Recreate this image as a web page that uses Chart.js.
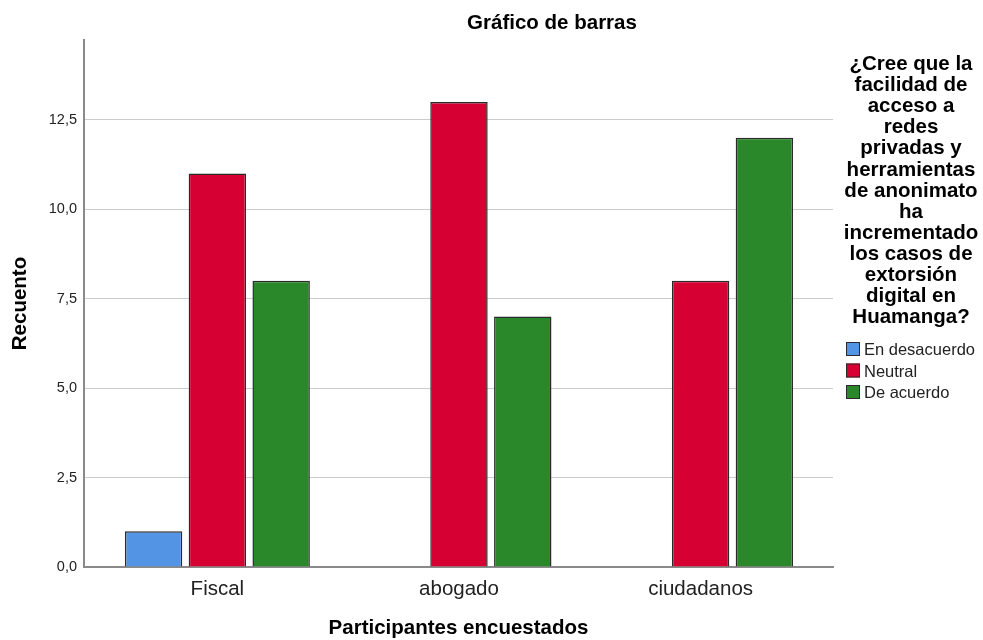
<!DOCTYPE html>
<html><head><meta charset="utf-8">
<script src="https://cdn.jsdelivr.net/npm/chart.js@4.4.1/dist/chart.umd.min.js"></script>
<style>html,body{margin:0;padding:0;background:#fff}canvas{display:block}</style>
</head><body>
<canvas id="c" width="983" height="640"></canvas>
<script>
const categories = ['Fiscal', 'abogado', 'ciudadanos'];
const seriesNames = ['En desacuerdo', 'Neutral', 'De acuerdo'];
const enDesacuerdo = [1, null, null];
const neutral = [11, 13, 8];
const deAcuerdo = [8, 7, 12];
const yTicks = [0, 2.5, 5, 7.5, 10, 12.5];
const chartTitle = 'Gráfico de barras';
const xTitle = 'Participantes encuestados';
const yTitle = 'Recuento';
const legendTitleLines = ['¿Cree que la', 'facilidad de', 'acceso a', 'redes', 'privadas y',
  'herramientas', 'de anonimato', 'ha', 'incrementado', 'los casos de', 'extorsión',
  'digital en', 'Huamanga?'];
const colors = ['#5494E4', '#D70032', '#2A882A'];

const FONT = "'Liberation Sans', Arial, sans-serif";
const series = [enDesacuerdo, neutral, deAcuerdo];

const textPlugin = {
  id: 'texts',
  afterDraw(chart) {
    const ctx = chart.ctx;
    ctx.save();
    ctx.fillStyle = '#000';
    ctx.textAlign = 'center';
    ctx.textBaseline = 'alphabetic';
    ctx.font = 'bold 20.5px ' + FONT;
    ctx.fillText(chartTitle, 552, 29);
    ctx.font = 'bold 20.5px ' + FONT;
    legendTitleLines.forEach((t, i) => ctx.fillText(t, 911, 70 + i * 21.1));
    ctx.textAlign = 'left';
    ctx.font = '16.5px ' + FONT;
    chart.data.datasets.forEach((ds, i) => {
      const y = 342 + i * 21.5;
      ctx.fillStyle = ds.backgroundColor;
      ctx.fillRect(846, y, 14, 14);
      ctx.strokeStyle = '#2b2b2b';
      ctx.lineWidth = 1;
      ctx.strokeRect(846.5, y + 0.5, 13, 13);
      ctx.fillStyle = '#222';
      ctx.fillText(ds.label, 864, y + 13);
    });
    ctx.restore();
  }
};

new Chart(document.getElementById('c'), {
  type: 'bar',
  data: {
    datasets: series.map((arr, k) => ({
      label: seriesNames[k],
      data: categories.map((c, i) => ({ x: i, y: arr[i] })),
      backgroundColor: colors[k],
      borderColor: '#2a2a2a',
      borderWidth: 1.5,
      categoryPercentage: 0.792,
      barPercentage: 0.9
    }))
  },
  plugins: [textPlugin],
  options: {
    responsive: false,
    animation: false,
    devicePixelRatio: 1,
    layout: { padding: { top: 40, right: 150, bottom: 0, left: 0 } },
    plugins: { legend: { display: false }, title: { display: false }, tooltip: { enabled: false } },
    scales: {
      x: {
        type: 'linear',
        offset: false,
        min: -0.552,
        max: 2.548,
        afterBuildTicks: s => { s.ticks = categories.map((c, i) => ({ value: i })); },
        afterFit: s => { s.height = 73; },
        grid: { display: false, drawTicks: false, offset: false },
        border: { color: '#8a8a8a', width: 2 },
        ticks: {
          callback: v => categories[v],
          font: { family: FONT, size: 20.5 },
          color: '#222',
          padding: 10,
          maxRotation: 0,
          autoSkip: false
        },
        title: {
          display: true, text: xTitle, color: '#000',
          font: { family: FONT, size: 20.5, weight: 'bold', lineHeight: 1 },
          padding: { top: 0, bottom: 1 }
        }
      },
      y: {
        min: 0,
        max: 14.73,
        afterBuildTicks: s => { s.ticks = yTicks.map(v => ({ value: v })); },
        afterFit: s => { s.width = 84; },
        grid: { color: '#cccccc', lineWidth: 1, drawTicks: false },
        border: { color: '#8a8a8a', width: 2 },
        ticks: {
          callback: v => v.toFixed(1).replace('.', ','),
          font: { family: FONT, size: 14.5 },
          color: '#222',
          padding: 7
        },
        title: {
          display: true, text: yTitle, color: '#000',
          font: { family: FONT, size: 20.5, weight: 'bold', lineHeight: 1 },
          padding: { top: 10.5, bottom: 0 }
        }
      }
    }
  }
});
</script>
</body></html>
